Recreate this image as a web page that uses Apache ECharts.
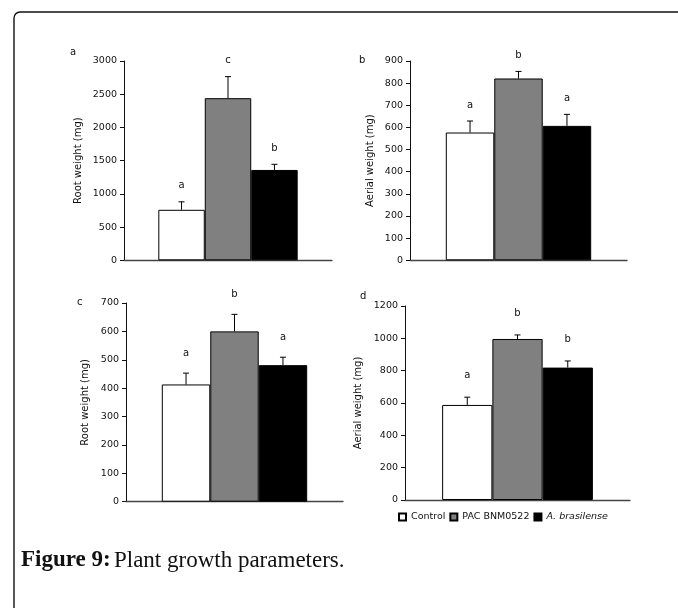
<!DOCTYPE html>
<html><head><meta charset="utf-8">
<script src="https://cdn.jsdelivr.net/npm/echarts@6/dist/echarts.min.js"></script>
<style>html,body{margin:0;padding:0;background:#fff}#c{width:678px;height:608px}</style>
</head><body><div id="c"></div><script>
// ---- data ----
const categories = [''];
const seriesNames = ['Control', 'PAC BNM0522', 'A. brasilense'];
const barColors = ['#ffffff', '#808080', '#000000'];

const rootWeightA = [760, 2440, 1360];
const rootWeightAErr = [120, 325, 85];
const rootWeightALetters = ['a', 'c', 'b'];

const aerialWeightB = [577, 821, 607];
const aerialWeightBErr = [52, 32, 52];
const aerialWeightBLetters = ['a', 'b', 'a'];

const rootWeightC = [413, 600, 481];
const rootWeightCErr = [40, 60, 28];
const rootWeightCLetters = ['a', 'b', 'a'];

const aerialWeightD = [588, 996, 819];
const aerialWeightDErr = [48, 25, 41];
const aerialWeightDLetters = ['a', 'b', 'b'];

const yMaxes = [3000, 900, 700, 1200];
const yIntervals = [500, 100, 100, 200];
const yTitles = ['Root weight (mg)', 'Aerial weight (mg)', 'Root weight (mg)', 'Aerial weight (mg)'];
const panelLetters = ['a', 'b', 'c', 'd'];

// ---- layout / style ----
const FONT = 'DejaVu Sans, Liberation Sans, Arial, sans-serif';
const GAP = 0.33;
const panels = [
  { means: rootWeightA, errs: rootWeightAErr, letters: rootWeightALetters,
    grid: { left: 124, top: 61, width: 208, height: 199.3 }, nameGap: 41, letterOff: 11, label: [73, 53] },
  { means: aerialWeightB, errs: aerialWeightBErr, letters: aerialWeightBLetters,
    grid: { left: 410, top: 61, width: 217, height: 199.3 }, nameGap: 35, letterOff: 11, label: [362, 61] },
  { means: rootWeightC, errs: rootWeightCErr, letters: rootWeightCLetters,
    grid: { left: 126, top: 303, width: 217, height: 198.7 }, nameGap: 36, letterOff: 15, label: [80, 303] },
  { means: aerialWeightD, errs: aerialWeightDErr, letters: aerialWeightDLetters,
    grid: { left: 405, top: 306, width: 225, height: 194 }, nameGap: 42, letterOff: 17, label: [363, 297] }
];

const grids = [], xAxes = [], yAxes = [], series = [], graphics = [];
panels.forEach((p, k) => {
  grids.push(Object.assign({ containLabel: false }, p.grid));
  xAxes.push({
    type: 'category', gridIndex: k, data: categories,
    axisLine: { show: true, lineStyle: { color: '#444', width: 1.3 } },
    axisTick: { show: false }, axisLabel: { show: false }, splitLine: { show: false }
  });
  yAxes.push({
    type: 'value', gridIndex: k, min: 0, max: yMaxes[k], interval: yIntervals[k],
    name: yTitles[k], nameLocation: 'middle', nameRotate: 90, nameGap: p.nameGap,
    nameTextStyle: { fontFamily: FONT, fontSize: 10, color: '#111' },
    axisLine: { show: true, lineStyle: { color: '#111', width: 1 } },
    axisTick: { show: true, inside: false, length: 4, lineStyle: { color: '#111' } },
    axisLabel: { fontFamily: FONT, fontSize: 9.5, color: '#111', margin: 7,
      formatter: function (v) { return String(v); } },
    splitLine: { show: false }
  });
  seriesNames.forEach((n, i) => {
    series.push({
      type: 'bar', name: n, xAxisIndex: k, yAxisIndex: k,
      barGap: '0%', barCategoryGap: (GAP * 100) + '%',
      itemStyle: { color: barColors[i], borderColor: '#000', borderWidth: 1 },
      data: [p.means[i]], silent: true
    });
  });
  const letters = p.letters;
  const off = p.letterOff;
  series.push({
    type: 'custom', xAxisIndex: k, yAxisIndex: k, z: 10, silent: true,
    data: p.means.map((m, i) => [0, m, p.errs[i]]),
    renderItem: function (params, api) {
      const i = params.dataIndex;
      const mean = api.value(1), err = api.value(2);
      const base = api.coord([api.value(0), mean]);
      const top = api.coord([api.value(0), mean + err]);
      const band = api.size([1, 0])[0];
      const bw = band * (1 - GAP) / 3;
      const x = base[0] + (i - 1) * bw;
      return {
        type: 'group', children: [
          { type: 'line', shape: { x1: x, y1: base[1], x2: x, y2: top[1] }, style: { stroke: '#000', lineWidth: 1 } },
          { type: 'line', shape: { x1: x - 3, y1: top[1], x2: x + 3, y2: top[1] }, style: { stroke: '#000', lineWidth: 1 } },
          { type: 'text', x: x, y: top[1] - off, style: { text: letters[i], fill: '#111', font: '10px ' + FONT, align: 'center', verticalAlign: 'bottom' } }
        ]
      };
    }
  });
  graphics.push({ type: 'text', left: p.label[0] - 3, top: p.label[1] - 6,
    style: { text: panelLetters[k], fill: '#111', font: '10px ' + FONT } });
});

graphics.push({ type: 'rect', shape: { x: 14, y: 12, width: 700, height: 700, r: 6 },
  style: { fill: 'none', stroke: '#111', lineWidth: 1.4 }, z: -1 });
graphics.push({ type: 'text', left: 21, top: 549,
  style: { text: '{b|Figure 9:} {n|Plant growth parameters.}',
    rich: { b: { fontFamily: 'Liberation Serif, serif', fontWeight: 'bold', fontSize: 23, fill: '#111' },
            n: { fontFamily: 'Liberation Serif, serif', fontSize: 23, fill: '#111' } } } });

const chart = echarts.init(document.getElementById('c'));
chart.setOption({
  animation: false,
  backgroundColor: '#fff',
  grid: grids, xAxis: xAxes, yAxis: yAxes, series: series,
  legend: {
    data: seriesNames, left: 398, top: 512, padding: 0, icon: 'rect', itemWidth: 7, itemHeight: 7, itemGap: 4,
    selectedMode: false,
    textStyle: { fontFamily: FONT, fontSize: 9.5, color: '#111',
      rich: { i: { fontFamily: FONT, fontSize: 9.5, fontStyle: 'italic', color: '#111' } } },
    formatter: function (n) { return n === 'A. brasilense' ? '{i|' + n + '}' : n; }
  },
  graphic: graphics
});
</script></body></html>
